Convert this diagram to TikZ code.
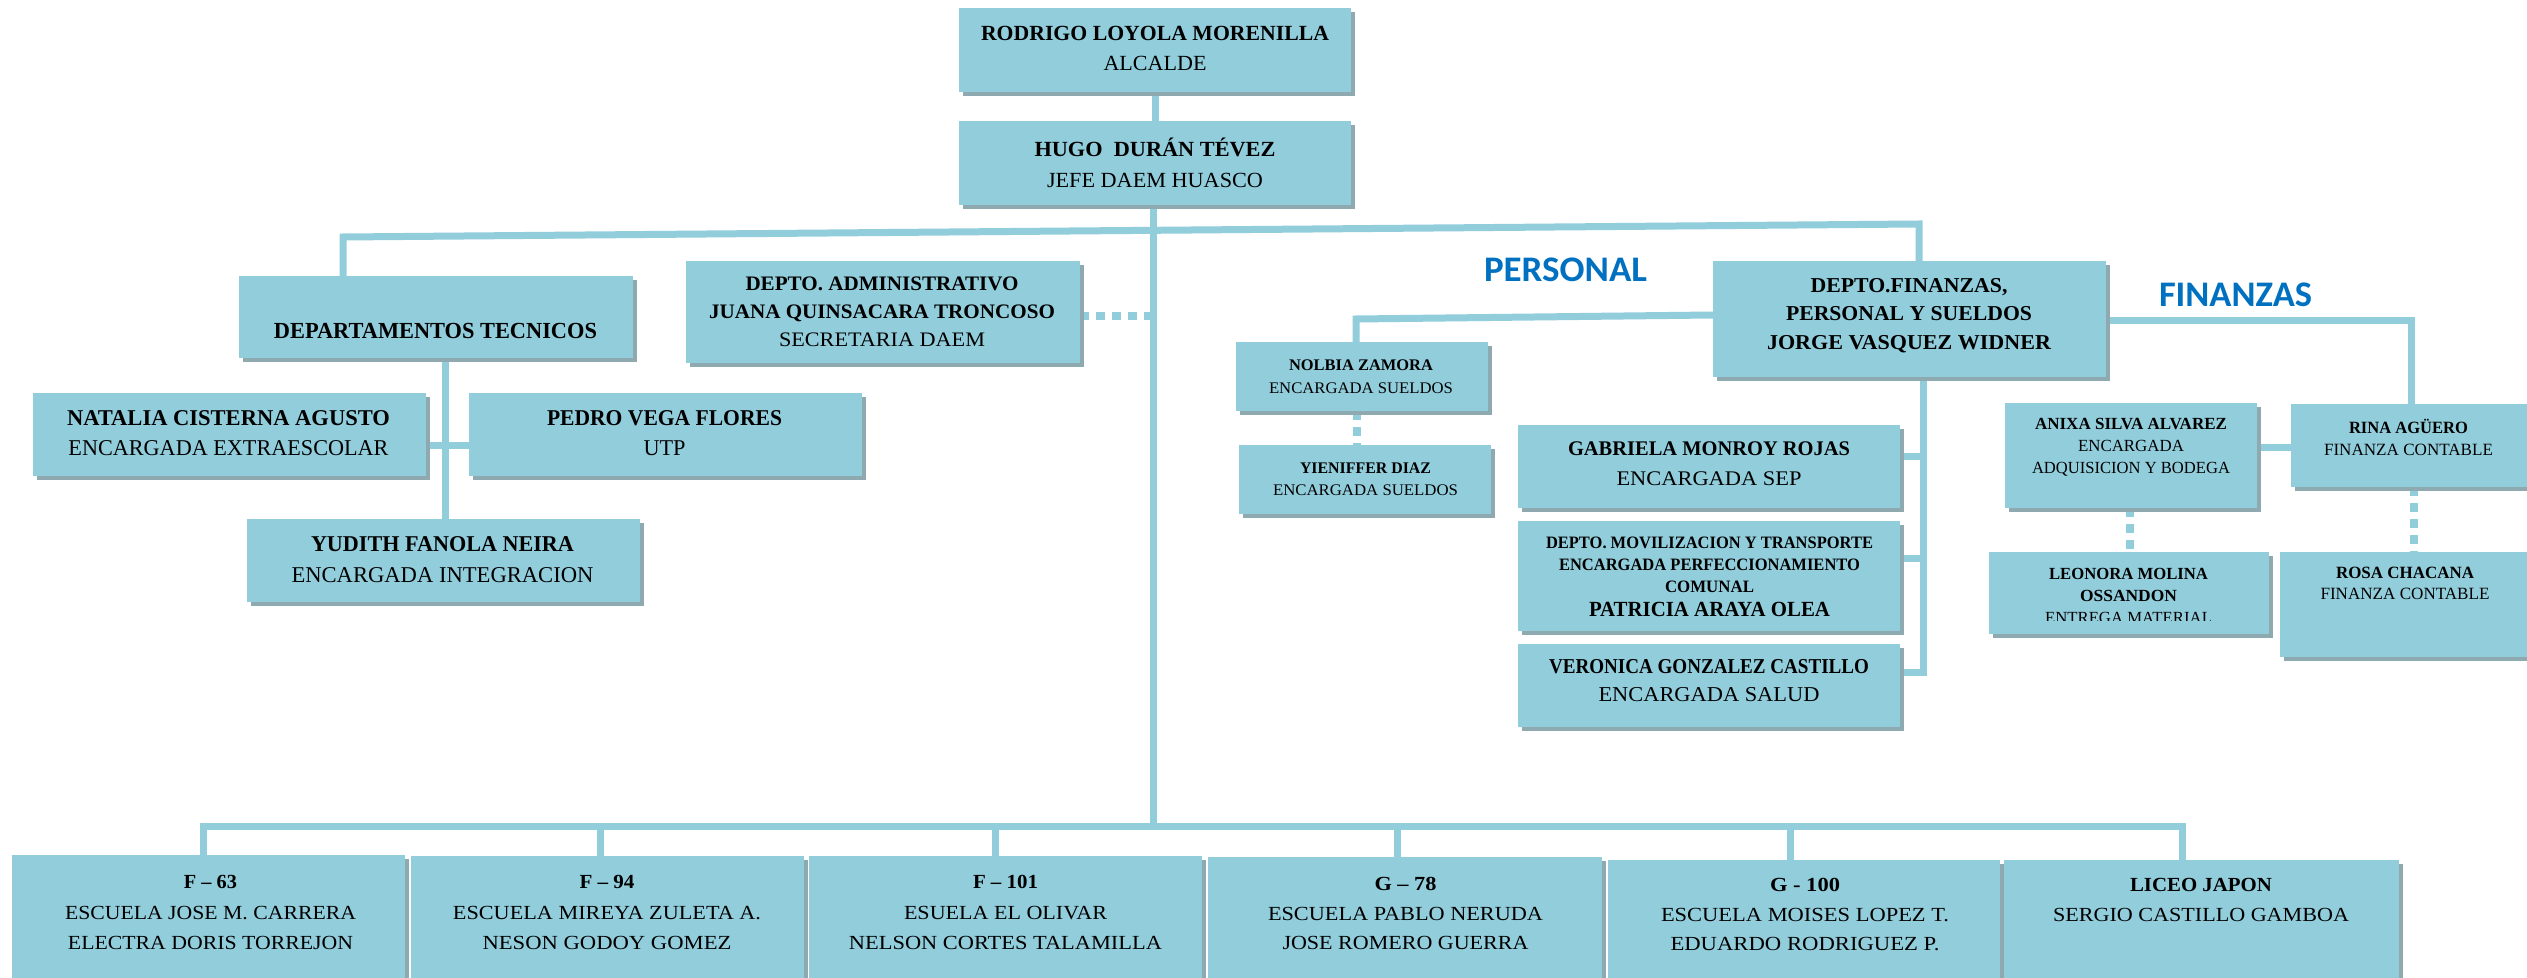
\documentclass[tikz,border=0pt]{standalone}
\usepackage{fontspec}
\setmainfont{Liberation Serif}
\newfontfamily\calib{Carlito}
\usepackage{graphicx}
\usetikzlibrary{shadows}
\definecolor{boxc}{HTML}{92CDDC}
\definecolor{shadc}{HTML}{8FA9B1}
\definecolor{lblc}{HTML}{0070C0}
\newdimen\pxu \pxu=0.5pt
\newcommand\Lw[2]{\resizebox{#1\pxu}{\height}{#2}}
\newcommand\fsz[2]{\fontsize{#1pt}{#2pt}\selectfont}
\pgfdeclarelayer{back}
\pgfdeclarelayer{bg}
\pgfsetlayers{back,bg,main}
\tikzset{
 box/.style={fill=boxc, inner sep=0pt, outer sep=0pt, drop shadow={shadow xshift=1.75pt, shadow yshift=-2pt, fill=shadc, opacity=1}},
 txt/.style={align=center, inner sep=0pt, outer sep=0pt},
 conn/.style={draw=boxc, line width=3.5pt, line join=miter},
 dotc/.style={draw=boxc, line width=3.75pt, dash pattern=on 4.5pt off 3.5pt},
 lbl/.style={inner sep=0pt, outer sep=0pt, text=lblc},
}
\newcommand\obox[5]{\node[box, minimum width={(#4-#2)*0.5pt}, minimum height={(#5-#3)*0.5pt}] (#1) at ({(#2+#4)/2},{(#3+#5)/2}) {};}
\begin{document}
\begin{tikzpicture}[x=0.5pt,y=-0.5pt]
\useasboundingbox (0,0) rectangle (2527,978);
\begin{pgfonlayer}{back}
\fill[white] (0,0) rectangle (2527,978);
\end{pgfonlayer}
% boxes
\obox{rod}{959}{8}{1351}{92}
\obox{hugo}{959}{121}{1351}{205}
\obox{dtec}{239}{276}{633}{358}
\obox{nat}{33}{393}{426}{476}
\obox{ped}{469}{393}{862}{476}
\obox{yud}{247}{519}{640}{602}
\obox{adm}{686}{261}{1080}{363}
\obox{fin}{1713}{261}{2106}{377}
\obox{nol}{1236}{342}{1488}{411}
\obox{yie}{1239}{445}{1491}{514}
\obox{gab}{1518}{425}{1900}{508}
\obox{pat}{1518}{521}{1900}{631}
\obox{ver}{1518}{644}{1900}{727}
\obox{anx}{2005}{403}{2257}{508}
\obox{rina}{2291}{404}{2540}{487}
\obox{leo}{1989}{552}{2269}{634}
\obox{rosa}{2280}{552}{2540}{657}
\obox{s1}{12}{855}{405}{990}
\obox{s2}{411}{856}{804}{990}
\obox{s3}{809}{856}{1202}{990}
\obox{s4}{1208}{857}{1602}{990}
\obox{s5}{1608}{860}{2000}{990}
\obox{s6}{2004}{860}{2399}{990}
% texts
\node[txt,font=\fsz{10.8}{15}] (rodt) at (1155,48) {\Lw{348}{\bfseries RODRIGO LOYOLA MORENILLA}\\\Lw{103}{ALCALDE}};
\node[txt,font=\fsz{10.8}{15.5}] (hugot) at (1155,162.5) {\Lw{241}{\bfseries HUGO\enspace DURÁN TÉVEZ}\\\Lw{216}{JEFE DAEM HUASCO}};
\node[txt,font=\fsz{11.5}{15}] (dtect) at (435.5,331) {\Lw{323}{\bfseries DEPARTAMENTOS TECNICOS}};
\node[txt,font=\fsz{11.3}{15}] (natt) at (228.5,433) {\Lw{323}{\bfseries NATALIA CISTERNA AGUSTO}\\\Lw{320}{ENCARGADA EXTRAESCOLAR}};
\node[txt,font=\fsz{11.3}{15}] (pedt) at (664.5,433) {\Lw{235}{\bfseries PEDRO VEGA FLORES}\\\Lw{42}{UTP}};
\node[txt,font=\fsz{11.3}{15.5}] (yudt) at (442.5,559.5) {\Lw{263}{\bfseries YUDITH FANOLA NEIRA}\\\Lw{302}{ENCARGADA INTEGRACION}};
\node[txt,font=\fsz{10.3}{14}] (admt) at (882,312) {\Lw{273}{\bfseries DEPTO. ADMINISTRATIVO}\\\Lw{346}{\bfseries JUANA QUINSACARA TRONCOSO}\\\Lw{206}{SECRETARIA DAEM}};
\node[lbl,font=\calib\bfseries\fsz{18}{20}] (perl) at (1565.5,269.5) {\Lw{163}{PERSONAL}};
\node[txt,font=\fsz{10.6}{14.25}] (fint) at (1909,315.5) {\Lw{197}{\bfseries DEPTO.FINANZAS,}\\\Lw{246}{\bfseries PERSONAL Y SUELDOS}\\\Lw{284}{\bfseries JORGE VASQUEZ WIDNER}};
\node[lbl,font=\calib\bfseries\fsz{18}{20}] (finl) at (2235.5,295) {\Lw{153}{FINANZAS}};
\node[txt,font=\fsz{8.1}{11.5}] (nolt) at (1361,376.5) {\Lw{144}{\bfseries NOLBIA ZAMORA}\\\Lw{184}{ENCARGADA SUELDOS}};
\node[txt,font=\fsz{8.1}{11}] (yiet) at (1365.5,479) {\Lw{131}{\bfseries YIENIFFER DIAZ}\\\Lw{185}{ENCARGADA SUELDOS}};
\node[txt,font=\fsz{10.4}{15}] (gabt) at (1709,464) {\Lw{282}{\bfseries GABRIELA MONROY ROJAS}\\\Lw{185}{ENCARGADA SEP}};
\node[txt,font=\fsz{8.7}{11}] (patt) at (1709.5,577) {\Lw{327}{\bfseries DEPTO. MOVILIZACION Y TRANSPORTE}\\\Lw{301}{\bfseries ENCARGADA PERFECCIONAMIENTO}\\\Lw{89}{\bfseries COMUNAL}\\[1pt]\Lw{241}{\fsz{10.8}{13}\bfseries PATRICIA ARAYA OLEA}};
\node[txt,font=\fsz{10.6}{14}] (vert) at (1709,681) {\Lw{320}{\bfseries VERONICA GONZALEZ CASTILLO}\\\Lw{221}{ENCARGADA SALUD}};
\node[txt,font=\fsz{8.5}{11}] (anxt) at (2131,447) {\Lw{192}{\bfseries ANIXA SILVA ALVAREZ}\\\Lw{106}{ENCARGADA}\\\Lw{198}{ADQUISICION Y BODEGA}};
\node[txt,font=\fsz{8.6}{11}] (rinat) at (2408.5,437) {\Lw{119}{\bfseries RINA AGÜERO}\\\Lw{169}{FINANZA CONTABLE}};
\begin{scope}
\clip (1989,552) rectangle (2269,620);
\node[txt,font=\fsz{8.5}{11}] (leot) at (2128.5,596) {\Lw{159}{\bfseries LEONORA MOLINA}\\\Lw{97}{\bfseries OSSANDON}\\\Lw{167}{ENTREGA MATERIAL}};
\end{scope}
\node[txt,font=\fsz{8.6}{10.5}] (rosat) at (2405,583.5) {\Lw{138}{\bfseries ROSA CHACANA}\\\Lw{169}{FINANZA CONTABLE}};
\node[txt,font=\fsz{10}{15.25}] (s1t) at (210.5,912.5) {\Lw{53}{\bfseries F – 63}\\\Lw{291}{ESCUELA JOSE M. CARRERA}\\\Lw{285}{ELECTRA DORIS TORREJON}};
\node[txt,font=\fsz{10}{15.25}] (s2t) at (607,912.5) {\Lw{55}{\bfseries F – 94}\\\Lw{308}{ESCUELA MIREYA ZULETA A.}\\\Lw{249}{NESON GODOY GOMEZ}};
\node[txt,font=\fsz{10}{15.25}] (s3t) at (1005.5,912.5) {\Lw{65}{\bfseries F – 101}\\\Lw{203}{ESUELA EL OLIVAR}\\\Lw{313}{NELSON CORTES TALAMILLA}};
\node[txt,font=\fsz{10}{14.75}] (s4t) at (1405.5,913.5) {\Lw{62}{\bfseries G – 78}\\\Lw{275}{ESCUELA PABLO NERUDA}\\\Lw{246}{JOSE ROMERO GUERRA}};
\node[txt,font=\fsz{10}{14.75}] (s5t) at (1805,914.5) {\Lw{70}{\bfseries G - 100}\\\Lw{288}{ESCUELA MOISES LOPEZ T.}\\\Lw{269}{EDUARDO RODRIGUEZ P.}};
\node[txt,font=\fsz{10}{15}] (s6t) at (2201,900) {\Lw{142}{\bfseries LICEO JAPON}\\\Lw{296}{SERGIO CASTILLO GAMBOA}};
% connectors
\begin{pgfonlayer}{bg}
\coordinate (tbL) at (343,237);
\coordinate (tbR) at (1919,224);
\draw[conn] (dtec.north -| tbL) -- (tbL) -- (tbR) -- (fin.north -| tbR);
\draw[conn] (rod.south) -- (hugo.north);
\coordinate (bb) at (1153,826);
\draw[conn] (hugo.south -| bb) -- (bb);
\coordinate (d1) at (203,826);
\coordinate (d2) at (600,826);
\coordinate (d3) at (995,826);
\coordinate (d4) at (1397,826);
\coordinate (d5) at (1790,826);
\coordinate (d6) at (2182,826);
\draw[conn] (s1.north -| d1) -- (d1) -- (d6) -- (s6.north -| d6);
\foreach \i in {2,3,4,5} {\draw[conn] (d\i) -- (s\i.north -| d\i);}
\coordinate (dt) at (445,446);
\draw[conn] (dtec.south -| dt) -- (yud.north -| dt);
\draw[conn] (nat.east |- dt) -- (ped.west |- dt);
\coordinate (ad) at (1153,316);
\draw[dotc] (adm.east |- ad) -- (ad);
\coordinate (fl) at (1713,315);
\coordinate (nz) at (1356,319);
\draw[conn] (fin.west |- fl) -- (nz) -- (nol.north -| nz);
\coordinate (ny) at (1357,0);
\draw[dotc] (nol.south -| ny) -- (yie.north -| ny);
\coordinate (fv) at (1923,672);
\coordinate (g1) at (1923,457);
\coordinate (p1) at (1923,558);
\draw[conn] (fin.south -| fv) -- (fv) -- (ver.east |- fv);
\draw[conn] (gab.east |- g1) -- (g1);
\draw[conn] (pat.east |- p1) -- (p1);
\coordinate (fr) at (2411,321);
\draw[conn] (fin.east |- fr) -- (fr) -- (rina.north -| fr);
\coordinate (ar) at (2270,448);
\draw[conn] (anx.east |- ar) -- (rina.west |- ar);
\coordinate (al) at (2130,0);
\draw[dotc] (anx.south -| al) -- (leo.north -| al);
\coordinate (rr) at (2414,0);
\draw[dotc] (rina.south -| rr) -- (rosa.north -| rr);
\end{pgfonlayer}
\end{tikzpicture}
\end{document}
